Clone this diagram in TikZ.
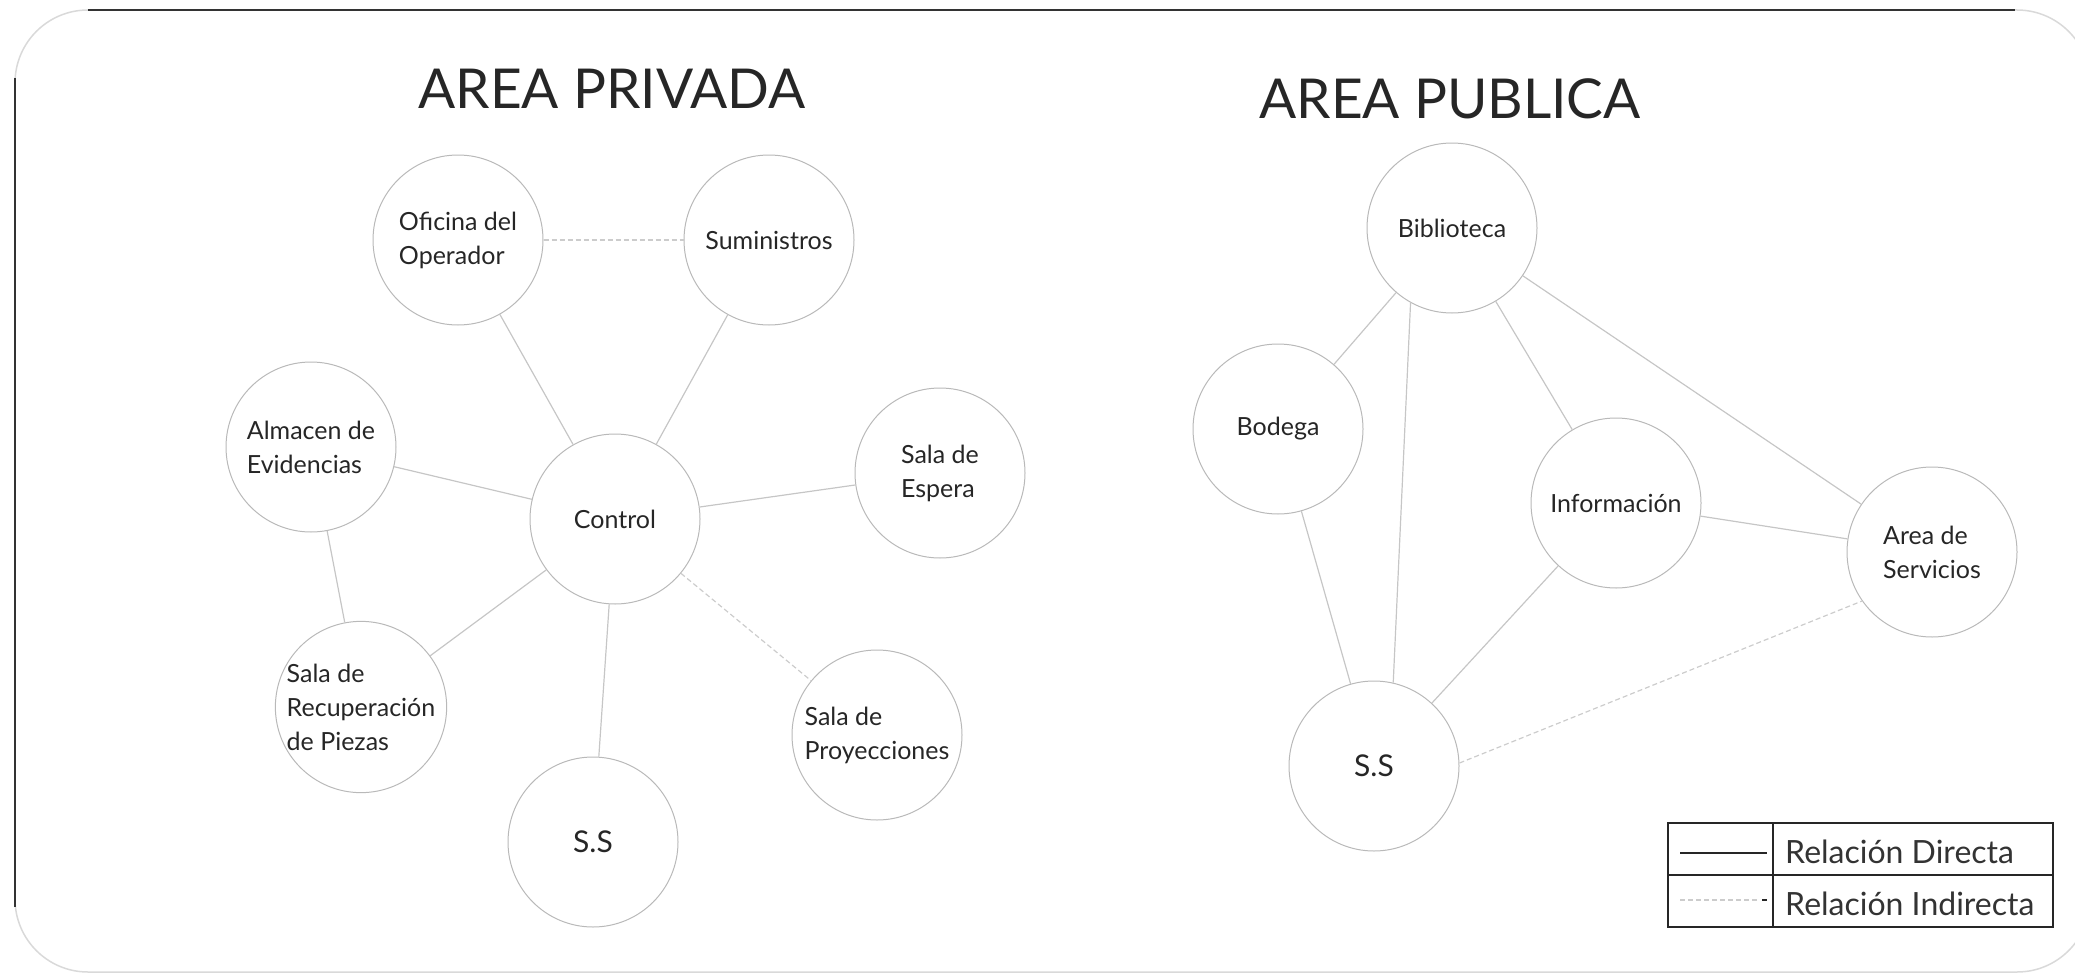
\documentclass[tikz,border=0pt]{standalone}
\usepackage{fontspec}
\setmainfont{Lato}
\begin{document}
\begin{tikzpicture}[x=1pt,y=-1pt,
  room/.style={circle, draw=gray!55, line width=1pt, minimum size=170pt, inner sep=0pt, align=left, font=\fontsize{25}{34}\selectfont, text=black!85},
  rel/.style={draw=gray!45, line width=1.2pt},
  ind/.style={draw=gray!40, line width=1.2pt, dash pattern=on 5pt off 3pt},
  ttl/.style={font=\fontsize{55}{60}\selectfont, anchor=base, text=black!85},
  legtext/.style={font=\fontsize{32}{36}\selectfont, anchor=base west, text=black!80, inner sep=0pt}]
\useasboundingbox (0,0) rectangle (2075,974);
% frame
\draw[gray!30, line width=1.5pt, rounded corners=73pt] (15,10) rectangle (2090,972);
\draw[black!80, line width=2.5pt] (88,10) -- (2015,10);
\draw[black!80, line width=2.5pt] (15,78) -- (15,907);
% titles
\node[ttl] (tpriv) at (612,108) {AREA PRIVADA};
\node[ttl] (tpub) at (1450,118) {AREA PUBLICA};
% private area
\node[room] (ofi) at (458,240) {Oficina del\\Operador};
\node[room] (sum) at (769,240) {Suministros};
\node[room] (alm) at (311,447) {Almacen de\\Evidencias};
\node[room] (con) at (615,519) {Control};
\node[room] (esp) at (940,473) {Sala de\\Espera};
\node[room] (rec) at (361,707) {Sala de\\Recuperación\\de Piezas};
\node[room] (pro) at (877,735) {Sala de\\Proyecciones};
\node[room, font=\fontsize{30}{34}\selectfont] (ssl) at (593,842) {S.S};
% public area
\node[room] (bib) at (1452,228) {Biblioteca};
\node[room] (bod) at (1278,429) {Bodega};
\node[room] (inf) at (1616,503) {Información};
\node[room] (are) at (1932,552) {Area de\\Servicios};
\node[room, font=\fontsize{30}{34}\selectfont] (ssr) at (1374,766) {S.S};
% connectors private
\draw[ind] (ofi) -- (sum);
\draw[rel] (ofi) -- (con);
\draw[rel] (sum) -- (con);
\draw[rel] (alm) -- (con);
\draw[rel] (alm) -- (rec);
\draw[rel] (con) -- (esp);
\draw[rel] (con) -- (rec);
\draw[rel] (con) -- (ssl);
\draw[ind] (con) -- (pro);
% connectors public
\draw[rel] (bib) -- (bod);
\draw[rel] (bib.241) -- (ssr.77);
\draw[rel] (bib) -- (inf);
\draw[rel] (bib) -- (are);
\draw[rel] (bod) -- (ssr);
\draw[rel] (inf) -- (ssr);
\draw[rel] (inf) -- (are);
\draw[ind] (ssr.2) -- (are.215);
% legend
\draw[black!85, line width=1.8pt] (1668,823) rectangle (2053,927);
\draw[black!85, line width=1.8pt] (1773,823) -- (1773,927);
\draw[black!85, line width=1.8pt] (1668,875) -- (2053,875);
\coordinate (ld1) at (1680,853);
\coordinate (ld2) at (1767,853);
\coordinate (li1) at (1680,900);
\coordinate (li2) at (1757,900);
\coordinate (li3) at (1762,900);
\coordinate (li4) at (1767,900);
\draw[black!85, line width=1.5pt] (ld1) -- (ld2);
\draw[ind] (li1) -- (li2);
\draw[black!85, line width=1.5pt] (li3) -- (li4);
\node[legtext] (ltd) at (1785,863) {Relación Directa};
\node[legtext] (lti) at (1785,915) {Relación Indirecta};
\end{tikzpicture}
\end{document}
